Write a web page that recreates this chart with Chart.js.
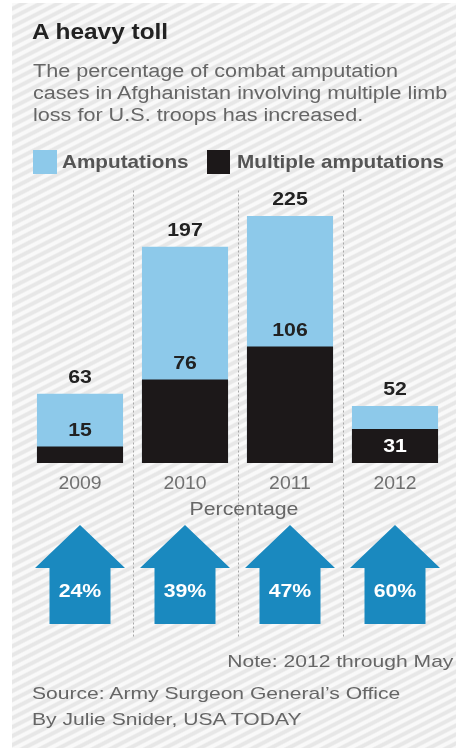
<!DOCTYPE html>
<html>
<head>
<meta charset="utf-8">
<script src="https://cdn.jsdelivr.net/npm/chart.js@4"></script>
<style>
  html, body { margin: 0; padding: 0; background: #ffffff; }
  body { width: 456px; height: 751px; position: relative; overflow: hidden;
         font-family: "Liberation Sans", Arial, Helvetica, sans-serif; }
  #bg { position: absolute; left: 12px; top: 3px; width: 444px; height: 745px;
        background: repeating-linear-gradient(153deg,
          #f9f9f9 0px, #f9f9f9 2.5px, #e7e7e7 4px, #e7e7e7 6.5px, #f9f9f9 8px); }
  #chart { position: absolute; left: 0; top: 0; }
  .t { position: absolute; white-space: nowrap; line-height: 1; transform-origin: left top; }
  .sq { position: absolute; width: 24px; height: 24px; }
</style>
</head>
<body>
<div id="bg"></div>
<canvas id="chart" width="456" height="751"></canvas>

<div class="t" style="left:32px; top:21.4px; font-size:22px; font-weight:bold; color:#222; transform:scaleX(1.11);">A heavy toll</div>
<div class="t" style="left:33px; top:59.8px; font-size:18px; line-height:22px; color:#666; transform:scaleX(1.20);">The percentage of combat amputation<br>cases in Afghanistan involving multiple limb<br>loss for U.S. troops has increased.</div>

<div class="sq" style="left:33px; top:150px; background:#8dc9ea;"></div>
<div class="t" style="left:62px; top:151.9px; font-size:19px; font-weight:bold; color:#555; transform:scaleX(1.09);">Amputations</div>
<div class="sq" style="left:207px; top:150px; width:23px; background:#1c1819;"></div>
<div class="t" style="left:237px; top:151.9px; font-size:19px; font-weight:bold; color:#555; transform:scaleX(1.09);">Multiple amputations</div>

<div class="t" style="left:144px; width:200px; text-align:center; top:499.8px; font-size:18.5px; color:#666; transform-origin:center top; transform:scaleX(1.15);">Percentage</div>

<div class="t" style="right:3px; top:653.4px; font-size:17px; color:#666; transform-origin:right top; transform:scaleX(1.24);">Note: 2012 through May</div>
<div class="t" style="left:32px; top:684.6px; font-size:17px; color:#666; transform:scaleX(1.24);">Source: Army Surgeon General’s Office</div>
<div class="t" style="left:32px; top:710.6px; font-size:17px; color:#666; transform:scaleX(1.24);">By Julie Snider, USA TODAY</div>

<script>
const years = ['2009', '2010', '2011', '2012'];
const amputations = [63, 197, 225, 52];
const multipleAmputations = [15, 76, 106, 31];
const percentages = [24, 39, 47, 60];

const BLUE = '#8dc9ea';
const BLACK = '#1c1819';
const ARROW = '#1a89bf';

function scaledText(ctx, text, x, y, font, color, sx) {
  ctx.save();
  ctx.font = font;
  ctx.fillStyle = color;
  ctx.textAlign = 'center';
  ctx.textBaseline = 'middle';
  ctx.translate(x, y);
  ctx.scale(sx, 1);
  ctx.fillText(text, 0, 0);
  ctx.restore();
}

const decorPlugin = {
  id: 'decor',
  beforeDatasetsDraw(chart) {
    const ctx = chart.ctx;
    const xs = chart.scales.x;
    const area = chart.chartArea;
    ctx.save();
    ctx.strokeStyle = '#a8a8a8';
    ctx.lineWidth = 1;
    ctx.setLineDash([2, 2]);
    for (let i = 0; i < years.length - 1; i++) {
      const x = Math.round((xs.getPixelForValue(i) + xs.getPixelForValue(i + 1)) / 2) + 0.5;
      ctx.beginPath();
      ctx.moveTo(x, area.top + 2);
      ctx.lineTo(x, area.bottom + 174);
      ctx.stroke();
    }
    ctx.restore();
  },
  afterDatasetsDraw(chart) {
    const ctx = chart.ctx;
    const xs = chart.scales.x;
    const area = chart.chartArea;
    const blueMeta = chart.getDatasetMeta(0);
    const blackMeta = chart.getDatasetMeta(1);
    const boldFont = 'bold 19px "Liberation Sans", Arial, sans-serif';
    years.forEach((yr, i) => {
      const b = blueMeta.data[i];
      const k = blackMeta.data[i];
      scaledText(ctx, String(amputations[i]), b.x, b.y - 16, boldFont, '#222', 1.12);
      if (k.y - b.y >= 30) {
        scaledText(ctx, String(multipleAmputations[i]), k.x, k.y - 16, boldFont, '#222', 1.12);
      } else {
        scaledText(ctx, String(multipleAmputations[i]), k.x, (k.y + k.base) / 2 + 1, boldFont, '#ffffff', 1.12);
      }
      scaledText(ctx, yr, xs.getPixelForValue(i), area.bottom + 21, '18.5px "Liberation Sans", Arial, sans-serif', '#707070', 1.05);

      const cx = xs.getPixelForValue(i);
      const tip = area.bottom + 62;
      const headBase = area.bottom + 105;
      const bottom = area.bottom + 161;
      const hw = 45, sw = 30.5;
      ctx.save();
      ctx.fillStyle = ARROW;
      ctx.beginPath();
      ctx.moveTo(cx, tip);
      ctx.lineTo(cx + hw, headBase);
      ctx.lineTo(cx + sw, headBase);
      ctx.lineTo(cx + sw, bottom);
      ctx.lineTo(cx - sw, bottom);
      ctx.lineTo(cx - sw, headBase);
      ctx.lineTo(cx - hw, headBase);
      ctx.closePath();
      ctx.fill();
      ctx.restore();
      scaledText(ctx, percentages[i] + '%', cx, area.bottom + 129, 'bold 19px "Liberation Sans", Arial, sans-serif', '#ffffff', 1.12);
    });
  }
};

new Chart(document.getElementById('chart'), {
  type: 'bar',
  data: {
    labels: years,
    datasets: [
      { label: 'Amputations', data: amputations, backgroundColor: BLUE, order: 2,
        categoryPercentage: 1, barPercentage: 0.82, grouped: false },
      { label: 'Multiple amputations', data: multipleAmputations, backgroundColor: BLACK, order: 1,
        categoryPercentage: 1, barPercentage: 0.82, grouped: false }
    ]
  },
  options: {
    responsive: false,
    animation: false,
    devicePixelRatio: 1,
    layout: { padding: { left: 27.5, right: 8.5, top: 188.5, bottom: 288 } },
    scales: {
      x: { display: false },
      y: { display: false, min: 0, max: 250 }
    },
    plugins: { legend: { display: false }, tooltip: { enabled: false } }
  },
  plugins: [decorPlugin]
});
</script>
</body>
</html>
